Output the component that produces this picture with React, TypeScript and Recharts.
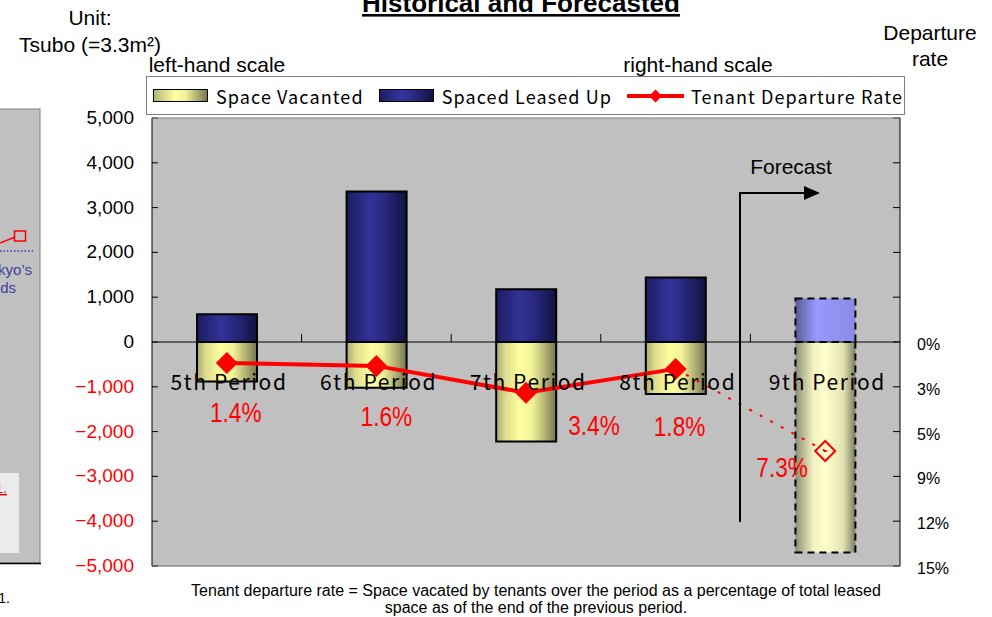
import React from 'react';
import {
  ComposedChart,
  Bar,
  Line,
  XAxis,
  YAxis,
  CartesianGrid,
  ReferenceLine,
  Legend,
  LabelList,
  Cell,
} from 'recharts';

// periods shown on the category axis
const periods = ['5th Period', '6th Period', '7th Period', '8th Period', '9th Period'];
// tsubo, vacated space plotted below zero
const spaceVacated = [-880, -1020, -2220, -1160, -4700];
const spaceLeasedUp = [620, 3360, 1180, 1440, 970];
// tenant departure rate, %
const departureRate = [1.4, 1.6, 3.4, 1.8, 7.3];
const isForecast = [false, false, false, false, true];

const areaTicks = [-5000, -4000, -3000, -2000, -1000, 0, 1000, 2000, 3000, 4000, 5000];
const rateTicks = [-15, -12, -9, -6, -3, 0, 3, 6, 9, 12, 15];
const rateLabelTicks = [0, 3, 6, 9, 12, 15];
const rateLabelTexts = ['0%', '3%', '5%', '9%', '12%', '15%'];

const W = 992;
const H = 617;
const PLOT_LEFT = 152;
const PLOT_TOP = 118;
const PLOT_RIGHT = 900;
const PLOT_BOTTOM = 566;
const AXIS_W = 60;
const LEFT_MARGIN = 18;
const RIGHT_MARGIN = 17;

const ARIAL = "'Liberation Sans', Arial, Helvetica, sans-serif";
const GOTHIC = "'Noto Sans CJK JP', 'Noto Sans', sans-serif";
const RED = '#ff0000';

const lastActual = isForecast.indexOf(true) - 1;

const chartData = periods.map((period, i) => ({
  period,
  vacated: spaceVacated[i],
  leased: spaceLeasedUp[i],
  rate: isForecast[i] ? null : departureRate[i],
  rateForecast: isForecast[i] || i === lastActual ? departureRate[i] : null,
}));

// where each rate label sits relative to its point
const rateLabelOffset: Record<number, [number, number]> = {
  0: [9, 49],
  1: [10, 50],
  2: [68, 32],
  3: [4, 57],
  4: [-43, 16],
};

const fmtArea = (v: number) =>
  (v < 0 ? '\u2212' : '') + Math.abs(v).toLocaleString('en-US');

const AreaTick = (props: any) => {
  const { x, y, payload } = props;
  const v = payload.value as number;
  return (
    <g>
      <line x1={x + LEFT_MARGIN} x2={x + LEFT_MARGIN + 6} y1={y} y2={y} stroke="#000" />
      <text
        x={x}
        y={y}
        dy={6}
        textAnchor="end"
        fontSize={19}
        fontFamily={ARIAL}
        fill={v < 0 ? RED : '#000'}
      >
        {fmtArea(v)}
      </text>
    </g>
  );
};

const RateTick = (props: any) => {
  const { x, y, payload } = props;
  const idx = rateLabelTicks.indexOf(payload.value);
  return (
    <g>
      <line x1={x - RIGHT_MARGIN} x2={x - RIGHT_MARGIN - 7} y1={y} y2={y} stroke="#000" />
      {idx >= 0 && (
        <text x={x} y={y} dy={8} textAnchor="start" fontSize={16} fontFamily={ARIAL} fill="#000">
          {rateLabelTexts[idx]}
        </text>
      )}
    </g>
  );
};

const diamond = (cx: number, cy: number, r: number) =>
  `M${cx},${cy - r}L${cx + r},${cy}L${cx},${cy + r}L${cx - r},${cy}Z`;

const ActualDot = (props: any) => {
  const { cx, cy, index } = props;
  if (cx == null || cy == null) return <g key={`ad-${index}`} />;
  return <path key={`ad-${index}`} d={diamond(cx, cy, 11)} fill={RED} />;
};

const ForecastDot = (props: any) => {
  const { cx, cy, index } = props;
  if (cx == null || cy == null || !isForecast[index]) return <g key={`fd-${index}`} />;
  return (
    <g key={`fd-${index}`}>
      <path d={diamond(cx, cy, 10)} fill="none" stroke={RED} strokeWidth={2} />
      <rect x={cx - 1.5} y={cy - 1} width={3} height={2} fill={RED} />
    </g>
  );
};

// condensed red percentage next to each rate point
const renderRateLabel = (props: any) => {
  const { x, y, index, value } = props;
  if (value == null || x == null || y == null) return null;
  const [dx, dy] = rateLabelOffset[index];
  return (
    <text
      key={`rl-${index}`}
      transform={`translate(${x + dx},${y + dy}) scale(0.84,1)`}
      textAnchor="middle"
      dominantBaseline="central"
      fontSize={27}
      fontFamily={ARIAL}
      fill={RED}
    >
      {`${Number(value).toFixed(1)}%`}
    </text>
  );
};

const renderForecastLabel = (props: any) =>
  isForecast[props.index] ? renderRateLabel(props) : null;

const renderPeriodLabel = (props: any) => {
  const { x, y, width, height, index } = props;
  const zeroY = Math.min(y, y + height);
  return (
    <text
      key={`pl-${index}`}
      x={x + width / 2 + 2}
      y={zeroY + 39}
      textAnchor="middle"
      dominantBaseline="central"
      fontSize={21}
      letterSpacing={1.6}
      fontFamily={GOTHIC}
      fill="#000"
    >
      {periods[index]}
    </text>
  );
};

const swatch = (key: string) => {
  if (key === 'rate') {
    return (
      <svg width={57} height={14} style={{ marginRight: 7, flex: 'none' }}>
        <line x1={0} x2={57} y1={7} y2={7} stroke={RED} strokeWidth={4} />
        <path d={diamond(28.5, 7, 6.5)} fill={RED} />
      </svg>
    );
  }
  const bg =
    key === 'vacated'
      ? 'linear-gradient(to right, #b4b478, #ffff9e 40%, #f0f096 60%, #77774f)'
      : 'linear-gradient(to right, #1e1e66, #333399 40%, #2e2e8c 55%, #141444)';
  return (
    <div
      style={{
        flex: 'none',
        width: 53,
        height: 11,
        border: '1px solid #000',
        background: bg,
        marginRight: 8,
      }}
    />
  );
};

const LegendBox = (props: any) => {
  const items = (props.payload || []).filter((p: any) => p.type !== 'none');
  return (
    <div
      style={{
        display: 'flex',
        alignItems: 'center',
        boxSizing: 'border-box',
        width: 759,
        height: 39,
        paddingLeft: 6,
        background: '#fff',
        border: '1px solid #808080',
        fontFamily: GOTHIC,
        fontSize: 18,
        letterSpacing: 1.1,
        whiteSpace: 'nowrap',
        color: '#000',
      }}
    >
      {items.map((p: any) => (
        <div key={p.dataKey} style={{ display: 'flex', alignItems: 'center', marginRight: 15 }}>
          {swatch(p.dataKey)}
          <span>{p.value}</span>
        </div>
      ))}
    </div>
  );
};

const zeroY = (PLOT_TOP + PLOT_BOTTOM) / 2;
const bandW = (PLOT_RIGHT - PLOT_LEFT) / periods.length;

const App: React.FC = () => (
  <div
    style={{
      position: 'absolute',
      left: 0,
      top: 0,
      width: W,
      height: H,
      overflow: 'hidden',
      background: '#fff',
    }}
  >
    <ComposedChart
      width={W}
      height={H}
      data={chartData}
      stackOffset="sign"
      margin={{
        top: PLOT_TOP,
        left: PLOT_LEFT - AXIS_W,
        right: W - PLOT_RIGHT - AXIS_W,
        bottom: H - PLOT_BOTTOM,
      }}
    >
      <defs>
        <linearGradient id="gVac" x1="0" y1="0" x2="1" y2="0">
          <stop offset="0" stopColor="#a8a872" />
          <stop offset="0.15" stopColor="#dcdc8e" />
          <stop offset="0.4" stopColor="#ffff9e" />
          <stop offset="0.6" stopColor="#f2f298" />
          <stop offset="0.85" stopColor="#a6a66e" />
          <stop offset="1" stopColor="#74744e" />
        </linearGradient>
        <linearGradient id="gLeased" x1="0" y1="0" x2="1" y2="0">
          <stop offset="0" stopColor="#1c1c60" />
          <stop offset="0.4" stopColor="#333399" />
          <stop offset="0.6" stopColor="#2a2a84" />
          <stop offset="1" stopColor="#121240" />
        </linearGradient>
        <linearGradient id="gVacF" x1="0" y1="0" x2="1" y2="0">
          <stop offset="0" stopColor="#8e8e76" />
          <stop offset="0.3" stopColor="#f2f2c2" />
          <stop offset="0.5" stopColor="#ffffcc" />
          <stop offset="0.8" stopColor="#e2e2b2" />
          <stop offset="1" stopColor="#7c7c64" />
        </linearGradient>
        <linearGradient id="gLeasedF" x1="0" y1="0" x2="1" y2="0">
          <stop offset="0" stopColor="#5a5a98" />
          <stop offset="0.35" stopColor="#9999ff" />
          <stop offset="1" stopColor="#8a8ae6" />
        </linearGradient>
      </defs>
      <CartesianGrid fill="#c0c0c0" horizontal={false} vertical={false} />
      <XAxis dataKey="period" hide />
      <YAxis
        yAxisId="left"
        width={AXIS_W}
        domain={[-5000, 5000]}
        ticks={areaTicks}
        interval={0}
        tickSize={0}
        tickMargin={LEFT_MARGIN}
        tickLine={false}
        axisLine={{ stroke: '#000' }}
        tick={<AreaTick />}
      />
      <YAxis
        yAxisId="right"
        orientation="right"
        width={AXIS_W}
        domain={[-15, 15]}
        reversed
        ticks={rateTicks}
        interval={0}
        tickSize={0}
        tickMargin={RIGHT_MARGIN}
        tickLine={false}
        axisLine={{ stroke: '#000' }}
        tick={<RateTick />}
      />
      <Legend
        layout="vertical"
        align="center"
        verticalAlign="middle"
        wrapperStyle={{ top: 76, left: 146, width: 759, height: 39 }}
        content={<LegendBox />}
      />
      <Bar
        yAxisId="left"
        dataKey="vacated"
        name="Space Vacanted"
        stackId="space"
        barSize={60}
        stroke="#000"
        strokeWidth={2}
        isAnimationActive={false}
      >
        {chartData.map((_, i) => (
          <Cell
            key={`v-${i}`}
            fill={isForecast[i] ? 'url(#gVacF)' : 'url(#gVac)'}
            strokeDasharray={isForecast[i] ? '7 5' : undefined}
          />
        ))}
        <LabelList dataKey="vacated" content={renderPeriodLabel} />
      </Bar>
      <Bar
        yAxisId="left"
        dataKey="leased"
        name="Spaced Leased Up"
        stackId="space"
        barSize={60}
        stroke="#000"
        strokeWidth={2}
        isAnimationActive={false}
      >
        {chartData.map((_, i) => (
          <Cell
            key={`l-${i}`}
            fill={isForecast[i] ? 'url(#gLeasedF)' : 'url(#gLeased)'}
            strokeDasharray={isForecast[i] ? '7 5' : undefined}
          />
        ))}
      </Bar>
      <ReferenceLine yAxisId="left" y={0} stroke="#000" strokeWidth={1} />
      <Line
        yAxisId="right"
        dataKey="rateForecast"
        legendType="none"
        stroke={RED}
        strokeWidth={2}
        strokeDasharray="3 9"
        dot={ForecastDot}
        activeDot={false}
        connectNulls={false}
        isAnimationActive={false}
      >
        <LabelList dataKey="rateForecast" content={renderForecastLabel} />
      </Line>
      <Line
        yAxisId="right"
        dataKey="rate"
        name="Tenant Departure Rate"
        stroke={RED}
        strokeWidth={4}
        dot={ActualDot}
        activeDot={false}
        isAnimationActive={false}
      >
        <LabelList dataKey="rate" content={renderRateLabel} />
      </Line>
    </ComposedChart>

    <svg
      width={W}
      height={H}
      style={{ position: 'absolute', left: 0, top: 0, pointerEvents: 'none' }}
    >
      {/* plot frame top and bottom */}
      <line x1={PLOT_LEFT} x2={PLOT_RIGHT} y1={PLOT_TOP} y2={PLOT_TOP} stroke="#808080" />
      <line x1={PLOT_LEFT} x2={PLOT_RIGHT} y1={PLOT_BOTTOM} y2={PLOT_BOTTOM} stroke="#606060" />
      {/* category dividers on the zero line */}
      {periods.slice(1).map((p, k) => (
        <line
          key={p}
          x1={PLOT_LEFT + bandW * (k + 1)}
          x2={PLOT_LEFT + bandW * (k + 1)}
          y1={zeroY - 8}
          y2={zeroY}
          stroke="#000"
        />
      ))}

      {/* forecast marker */}
      <polyline points="740,522 740,193 806,193" fill="none" stroke="#000" strokeWidth={2} />
      <path d="M804,186 L820,193 L804,200 Z" fill="#000" />
      <text x={791} y={174} textAnchor="middle" fontSize={21} fontFamily={ARIAL}>
        Forecast
      </text>

      {/* headings */}
      <text
        x={521}
        y={12}
        textAnchor="middle"
        fontSize={26}
        fontWeight="bold"
        fontFamily={ARIAL}
        style={{ textDecoration: 'underline' }}
      >
        Historical and Forecasted
      </text>
      <text x={90} y={25} textAnchor="middle" fontSize={21} fontFamily={ARIAL}>
        Unit:
      </text>
      <text x={90} y={52} textAnchor="middle" fontSize={21} fontFamily={ARIAL}>
        Tsubo (=3.3m²)
      </text>
      <text x={217} y={72} textAnchor="middle" fontSize={21} fontFamily={ARIAL}>
        left-hand scale
      </text>
      <text x={698} y={72} textAnchor="middle" fontSize={21} fontFamily={ARIAL}>
        right-hand scale
      </text>
      <text x={930} y={40} textAnchor="middle" fontSize={21} fontFamily={ARIAL}>
        Departure
      </text>
      <text x={930} y={66} textAnchor="middle" fontSize={21} fontFamily={ARIAL}>
        rate
      </text>

      {/* footnote */}
      <text x={536} y={596} textAnchor="middle" fontSize={16} fontFamily={ARIAL}>
        Tenant departure rate = Space vacated by tenants over the period as a percentage of total leased
      </text>
      <text x={536} y={613} textAnchor="middle" fontSize={16} fontFamily={ARIAL}>
        space as of the end of the previous period.
      </text>

      {/* edge of the neighbouring panel */}
      <rect x={-2} y={109} width={42} height={454} fill="#c0c0c0" stroke="#808080" />
      <line x1={0} x2={41} y1={563.5} y2={563.5} stroke="#000" strokeWidth={1.5} />
      <line x1={0} y1={243} x2={15} y2={237} stroke={RED} strokeWidth={1.5} />
      <rect x={14.5} y={231} width={11} height={10} fill="none" stroke={RED} strokeWidth={1.5} />
      <line x1={0} x2={33} y1={251} y2={251} stroke="#3333aa" strokeWidth={1.5} strokeDasharray="1.5 2" />
      <text x={32} y={275} textAnchor="end" fontSize={15} fontFamily={ARIAL} fill="#4040a0">
        kyo’s
      </text>
      <text x={16} y={293} textAnchor="end" fontSize={15} fontFamily={ARIAL} fill="#4040a0">
        ds
      </text>
      <rect x={-1} y={473} width={20} height={80} fill="#ebebeb" />
      <text
        x={7}
        y={493}
        textAnchor="end"
        fontSize={14}
        fontFamily={ARIAL}
        fill={RED}
        style={{ textDecoration: 'underline' }}
      >
        1.
      </text>
      <text x={10} y={603} textAnchor="end" fontSize={14} fontFamily={ARIAL}>
        1.
      </text>
    </svg>
  </div>
);

export default App;
